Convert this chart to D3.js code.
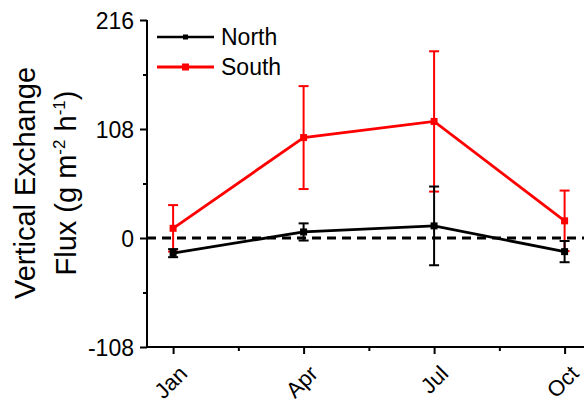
<!DOCTYPE html>
<html>
<head>
<meta charset="utf-8">
<script src="https://cdn.jsdelivr.net/npm/d3@7"></script>
<style>
body { margin: 0; background: #fff; }
text { font-family: "Liberation Sans", Arial, sans-serif; }
</style>
</head>
<body>
<script>
var months = ["Jan", "Apr", "Jul", "Oct"];
var monthPos = [0, 3, 6, 9];
var northMean = [-15, 6, 12, -13.5];
var northErr = [4, 8.5, 39, 10.5];
var southMean = [9.6, 99.5, 115.5, 17];
var southErr = [23, 51, 69.5, 30];
var yTicks = [-108, 0, 108, 216];
var yMinor = [-54, 54, 162];
var xMinor = [1.5, 4.5, 7.5];

var width = 584, height = 403;
var plotLeft = 147, plotTop = 20, plotBottom = 347;
var font = "'Liberation Sans', Arial, sans-serif";

var svg = d3.select("body").append("svg")
    .attr("width", width)
    .attr("height", height);

var x = d3.scaleLinear().domain([-0.6, 9.6]).range([plotLeft, plotLeft + 443.7]);
var y = d3.scaleLinear().domain([-108, 216]).range([plotBottom, plotTop]);

var series = [
    {name: "North", color: "#000", mean: northMean, err: northErr},
    {name: "South", color: "#f00", mean: southMean, err: southErr}
];

// zero line
svg.append("line")
    .attr("x1", plotLeft).attr("x2", width)
    .attr("y1", y(0)).attr("y2", y(0))
    .attr("stroke", "#000")
    .attr("stroke-width", 3)
    .attr("stroke-dasharray", "9,6");

// draw South first so North sits on top
series.slice().reverse().forEach(function(s) {
    var g = svg.append("g");
    var pts = monthPos.map(function(m, i) { return {x: m, v: s.mean[i], e: s.err[i]}; });

    g.append("path")
        .datum(pts)
        .attr("fill", "none")
        .attr("stroke", s.color)
        .attr("stroke-width", 2.8)
        .attr("d", d3.line().x(function(d) { return x(d.x); }).y(function(d) { return y(d.v); }));

    var eb = g.selectAll(".eb").data(pts).enter().append("g");
    eb.append("line")
        .attr("x1", function(d) { return x(d.x); })
        .attr("x2", function(d) { return x(d.x); })
        .attr("y1", function(d) { return y(d.v + d.e); })
        .attr("y2", function(d) { return y(d.v - d.e); })
        .attr("stroke", s.color).attr("stroke-width", 2);
    [1, -1].forEach(function(sign) {
        eb.append("line")
            .attr("x1", function(d) { return x(d.x) - 5; })
            .attr("x2", function(d) { return x(d.x) + 5; })
            .attr("y1", function(d) { return y(d.v + sign * d.e); })
            .attr("y2", function(d) { return y(d.v + sign * d.e); })
            .attr("stroke", s.color).attr("stroke-width", 2);
    });
    eb.append("rect")
        .attr("x", function(d) { return x(d.x) - 3.5; })
        .attr("y", function(d) { return y(d.v) - 3.5; })
        .attr("width", 7).attr("height", 7)
        .attr("fill", s.color);
});

// y axis
var yAxis = svg.append("g")
    .attr("transform", "translate(" + plotLeft + ",0)")
    .call(d3.axisLeft(y).tickValues(yTicks).tickSize(7).tickPadding(6)
        .tickFormat(function(d) { return String(d); }));
var yMin = svg.append("g")
    .attr("transform", "translate(" + plotLeft + ",0)")
    .call(d3.axisLeft(y).tickValues(yMinor).tickSize(4).tickFormat(""));
yMin.select(".domain").remove();
yMin.selectAll("line").attr("stroke-width", 2);
yAxis.select(".domain").attr("stroke-width", 2).attr("d", "M0," + plotTop + "V" + plotBottom);
yAxis.selectAll(".tick line").attr("stroke-width", 2);
yAxis.selectAll("text").attr("font-size", 23).attr("fill", "#000")
    .attr("dy", "0.36em")
    .style("font-family", font);

// x axis
var xAxis = svg.append("g")
    .attr("transform", "translate(0," + plotBottom + ")")
    .call(d3.axisBottom(x).tickValues(monthPos).tickSize(7)
        .tickFormat(function(d, i) { return months[i]; }));
var xMin = svg.append("g")
    .attr("transform", "translate(0," + plotBottom + ")")
    .call(d3.axisBottom(x).tickValues(xMinor).tickSize(4).tickFormat(""));
xMin.select(".domain").remove();
xMin.selectAll("line").attr("stroke-width", 2);
xAxis.select(".domain").attr("stroke-width", 2).attr("d", "M" + plotLeft + ",0H" + width);
xAxis.selectAll(".tick line").attr("stroke-width", 2);
xAxis.selectAll("text")
    .attr("font-size", 22).attr("fill", "#000")
    .style("font-family", font)
    .attr("text-anchor", "end")
    .attr("dy", null)
    .attr("y", 0)
    .attr("transform", "translate(15,28) rotate(-45)");

// y title
var title = svg.append("text")
    .attr("transform", "translate(35,183) rotate(-90)")
    .attr("text-anchor", "middle")
    .attr("font-size", 29);
title.append("tspan").attr("x", 0).attr("y", 0).text("Vertical Exchange");
var t2 = title.append("tspan").attr("x", 0).attr("y", 41);
t2.append("tspan").text("Flux (g m");
t2.append("tspan").attr("dy", -11).attr("font-size", 17).text("-2");
t2.append("tspan").attr("dy", 11).text(" h");
t2.append("tspan").attr("dy", -11).attr("font-size", 17).text("-1");
t2.append("tspan").attr("dy", 11).text(")");

// legend
var leg = svg.append("g").selectAll("g").data(series).enter().append("g")
    .attr("transform", function(d, i) { return "translate(157," + (37 + i * 30) + ")"; });
leg.append("line").attr("x1", 0).attr("x2", 57)
    .attr("stroke", function(d) { return d.color; })
    .attr("stroke-width", function(d, i) { return i ? 3 : 2.5; });
leg.append("rect").attr("x", function(d, i) { return i ? 25 : 26; })
    .attr("y", function(d, i) { return i ? -3.5 : -2.5; })
    .attr("width", function(d, i) { return i ? 7 : 5; })
    .attr("height", function(d, i) { return i ? 7 : 5; })
    .attr("fill", function(d) { return d.color; });
leg.append("text").attr("x", 64).attr("y", 8)
    .attr("font-size", 23)
    .text(function(d) { return d.name; });
</script>
</body>
</html>
